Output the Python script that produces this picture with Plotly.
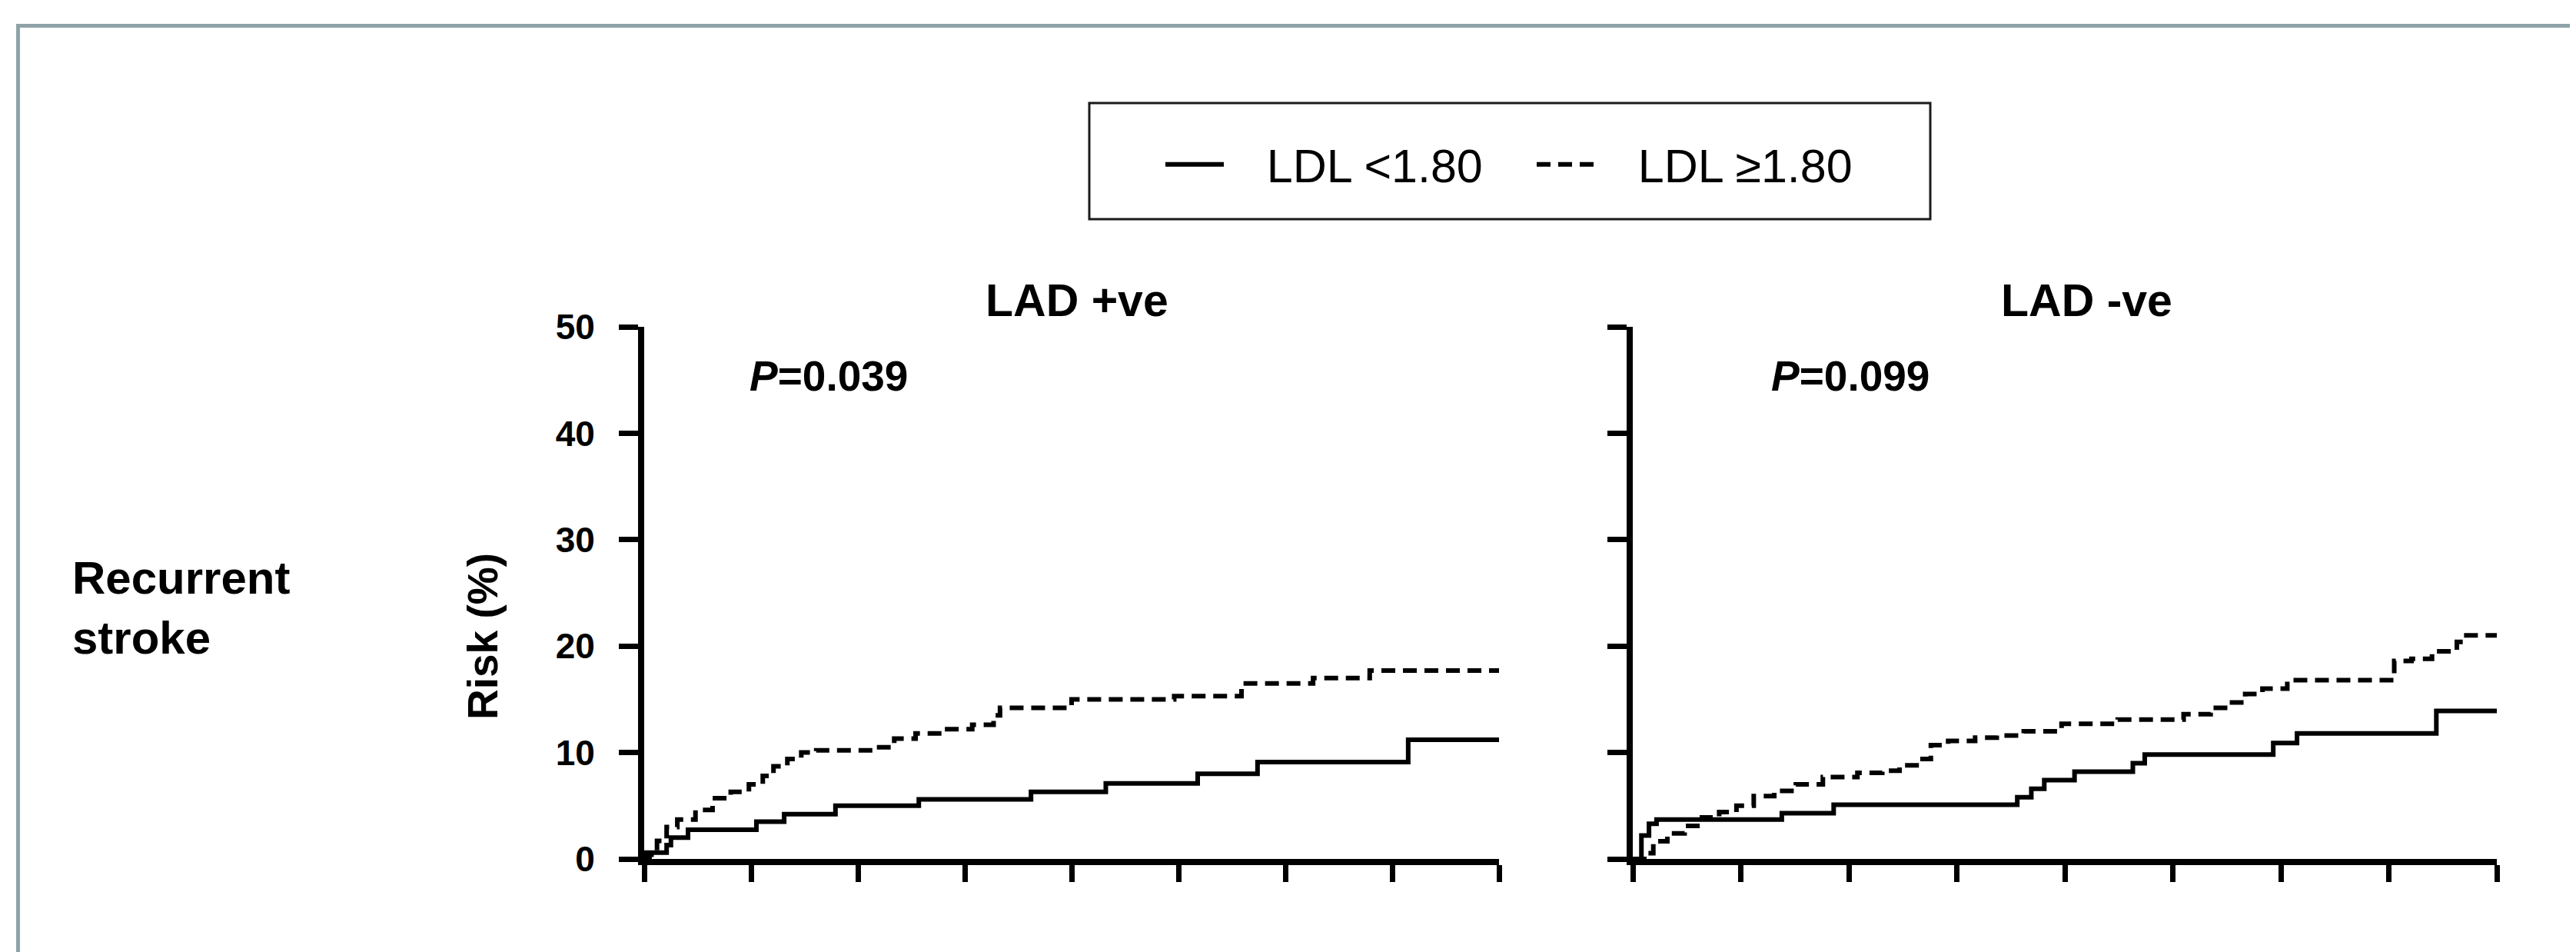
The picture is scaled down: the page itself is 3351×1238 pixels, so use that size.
import plotly.graph_objects as go

W, H = 3351, 1238
OX, OY = 8, 8  # page body margin offset

# ---------------- data ----------------
x_tick_vals = [0, 1, 2, 3, 4, 5, 6, 7, 8]
y_tick_vals = [0, 10, 20, 30, 40, 50]

series_names = ["LDL <1.80", "LDL \u22651.80"]
panel_titles = ["LAD +ve", "LAD -ve"]
p_values = ["0.039", "0.099"]
row_label = "Recurrent<br>stroke"
y_title = "Risk (%)"

# LAD +ve, LDL <1.80 (solid)
pos_low_x = [0, 0.02, 0.21, 0.25, 0.41, 1.05, 1.31, 1.79, 2.57, 3.62, 4.32, 5.18, 5.74, 7.15, 8.0]
pos_low_y = [0, 0.6, 1.3, 2.0, 2.75, 3.5, 4.2, 5.0, 5.6, 6.3, 7.1, 8.0, 9.1, 11.2, 11.2]

# LAD +ve, LDL >=1.80 (dashed)
pos_high_x = [0, 0.05, 0.12, 0.21, 0.31, 0.48, 0.64, 0.81, 0.98, 1.11, 1.21, 1.34, 1.47, 1.61,
              2.14, 2.34, 2.54, 2.80, 3.07, 3.27, 3.33, 4.00, 4.96, 5.59, 6.26, 6.79, 8.0]
pos_high_y = [0, 0.4, 1.7, 3.0, 3.7, 4.6, 5.7, 6.3, 7.0, 7.8, 8.7, 9.4, 10.0, 10.2,
              10.5, 11.3, 11.8, 12.2, 12.6, 13.5, 14.2, 15.0, 15.3, 16.5, 17.0, 17.7, 17.7]

# LAD -ve, LDL <1.80 (solid)
neg_low_x = [0, 0.08, 0.15, 0.22, 1.38, 1.86, 3.56, 3.69, 3.81, 4.09, 4.63, 4.74, 5.93, 6.15, 7.44, 8.0]
neg_low_y = [0, 2.2, 3.3, 3.7, 4.3, 5.1, 5.8, 6.6, 7.4, 8.2, 9.0, 9.8, 10.9, 11.8, 13.9, 13.9]

# LAD -ve, LDL >=1.80 (dashed)
neg_high_x = [0, 0.13, 0.19, 0.32, 0.48, 0.64, 0.80, 0.96, 1.12, 1.31, 1.51, 1.76, 2.08, 2.31,
              2.47, 2.66, 2.76, 2.92, 3.17, 3.37, 3.62, 3.97, 4.49, 5.10, 5.35, 5.51, 5.67,
              5.83, 6.06, 7.05, 7.21, 7.40, 7.63, 7.69, 8.0]
neg_high_y = [0, 0.55, 1.66, 2.4, 3.1, 3.9, 4.4, 5.0, 5.9, 6.4, 7.0, 7.7, 8.1, 8.3,
              8.8, 9.4, 10.7, 11.1, 11.4, 11.6, 12.0, 12.7, 13.1, 13.6, 14.2, 14.7, 15.5,
              16.0, 16.8, 18.6, 18.8, 19.5, 20.4, 21.0, 21.0]

# ---------------- styling ----------------
FONT = "Arial, 'Liberation Sans', Helvetica, sans-serif"
LINE_W = 6
DASH = "18px,10px"
PAD = "\u00a0\u00a0\u00a0"


def px(xp):
    return (xp - OX) / W


def py(yp):
    return 1 - (yp - OY) / H


fig = go.Figure()

panels = [
    ("x", "y", pos_low_x, pos_low_y, pos_high_x, pos_high_y, True),
    ("x2", "y2", neg_low_x, neg_low_y, neg_high_x, neg_high_y, False),
]
for xa, ya, lx, ly, hx, hy, show in panels:
    fig.add_trace(go.Scatter(
        x=lx, y=ly, xaxis=xa, yaxis=ya, mode="lines", name=PAD + series_names[0],
        line=dict(color="black", width=LINE_W, shape="hv"),
        legendgroup="low", showlegend=show))
    fig.add_trace(go.Scatter(
        x=hx, y=hy, xaxis=xa, yaxis=ya, mode="lines", name=PAD + series_names[1],
        line=dict(color="black", width=LINE_W, shape="hv", dash=DASH),
        legendgroup="high", showlegend=show))

xcommon = dict(range=[0, 8], tickvals=x_tick_vals, ticks="outside", ticklen=22, tickwidth=7,
               tickcolor="black", showline=True, linewidth=8, linecolor="black",
               showticklabels=False, showgrid=False, zeroline=False, automargin=False,
               fixedrange=True)
ycommon = dict(range=[0, 50], tickvals=y_tick_vals, ticks="outside", ticklen=25, tickwidth=7,
               tickcolor="black", showline=True, linewidth=8, linecolor="black",
               showgrid=False, zeroline=False, automargin=False, fixedrange=True)

ydom = [py(1117), py(425)]
fig.update_layout(
    xaxis=dict(domain=[px(838), px(1950)], anchor="y", **xcommon),
    xaxis2=dict(domain=[px(2124), px(3248)], anchor="y2", **xcommon),
    yaxis=dict(domain=ydom, anchor="x", showticklabels=True,
               tickfont=dict(size=46, weight="bold", family=FONT, color="black"),
               ticklabelstandoff=22, **ycommon),
    yaxis2=dict(domain=ydom, anchor="x2", showticklabels=False, **ycommon),
)

annotations = []
title_x = [px(1401), px(2714)]
for i, t in enumerate(panel_titles):
    annotations.append(dict(text=t, x=title_x[i], y=py(391), xref="paper", yref="paper",
                            xanchor="center", yanchor="middle", showarrow=False,
                            font=dict(size=59, weight="bold", family=FONT, color="black")))
p_pos = [("x", "y", 0.97), ("x2", "y2", 1.27)]
for (xr, yr, pxv), pv in zip(p_pos, p_values):
    annotations.append(dict(text="<i>P</i>=" + pv, x=pxv, y=45.4, xref=xr, yref=yr,
                            xanchor="left", yanchor="middle", showarrow=False,
                            font=dict(size=55, weight="bold", family=FONT, color="black")))
# y-axis title
annotations.append(dict(text=y_title, x=px(628), y=py(828), xref="paper", yref="paper",
                        xanchor="center", yanchor="middle", textangle=-90, showarrow=False,
                        font=dict(size=55, weight="bold", family=FONT, color="black")))
# row label
annotations.append(dict(text=row_label, x=px(92), y=py(790), xref="paper", yref="paper",
                        xanchor="left", yanchor="middle", align="left", showarrow=False,
                        font=dict(size=60, weight="bold", family=FONT, color="black")))

shapes = [
    # outer frame
    dict(type="rect", xref="paper", yref="paper", x0=px(23.5), y0=py(33.5), x1=1.02, y1=-0.02,
         line=dict(color="#8FA3A7", width=5), fillcolor="rgba(0,0,0,0)", layer="below"),
    # legend box
    dict(type="rect", xref="paper", yref="paper", x0=px(1417), y0=py(134), x1=px(2511),
         y1=py(285), line=dict(color="#1a1a1a", width=3), fillcolor="rgba(0,0,0,0)"),
]

fig.update_layout(
    width=W, height=H, template="none",
    margin=dict(l=0, r=0, t=0, b=0, autoexpand=False),
    paper_bgcolor="white", plot_bgcolor="rgba(0,0,0,0)",
    font=dict(family=FONT, color="black"),
    showlegend=True,
    legend=dict(orientation="h", x=px(1511), y=py(214), xanchor="left", yanchor="middle",
                font=dict(size=61, family=FONT, color="black"), itemwidth=76,
                entrywidth=392, entrywidthmode="pixels", bgcolor="rgba(0,0,0,0)",
                borderwidth=0, traceorder="normal"),
    annotations=annotations,
    shapes=shapes,
)

fig.write_html("out.html")
